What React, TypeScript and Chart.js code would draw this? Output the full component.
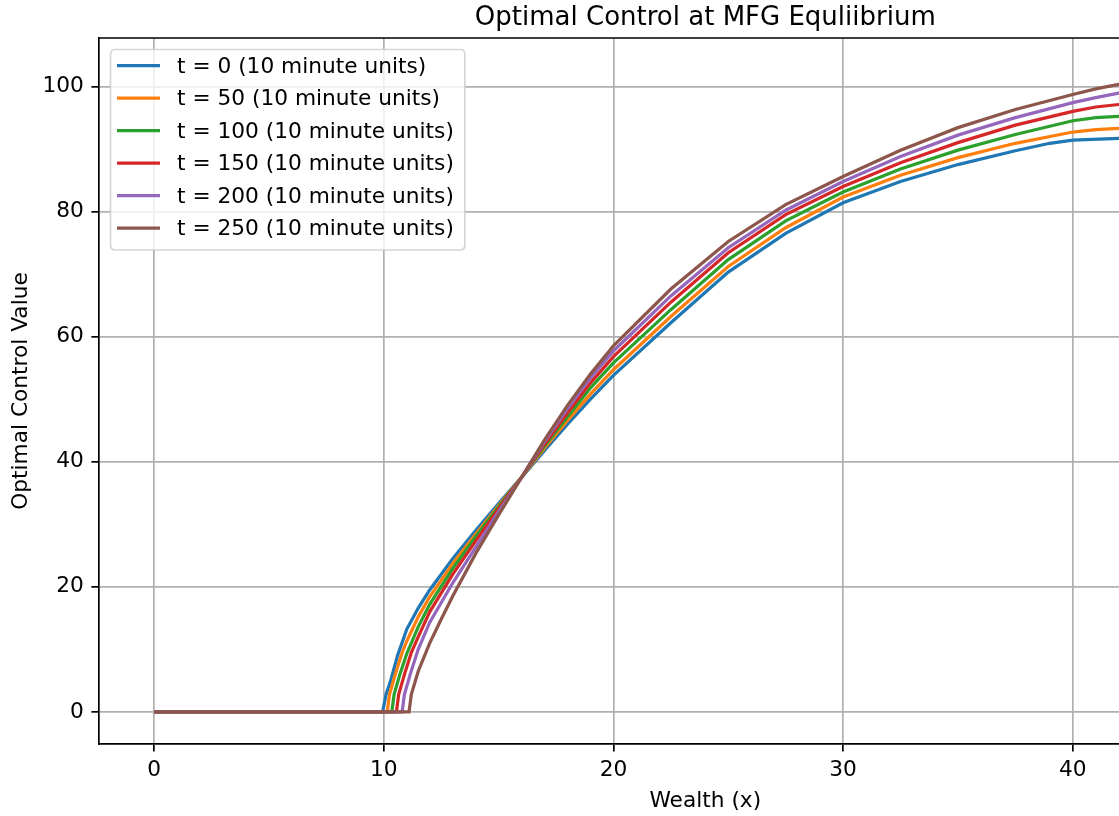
import { useEffect, useRef } from "react";
import { Chart, registerables } from "chart.js";

Chart.register(...registerables);

const FONT = "'DejaVu Sans', 'Liberation Sans', sans-serif";

const TITLE = "Optimal Control at MFG Equliibrium";
const X_LABEL = "Wealth (x)";
const Y_LABEL = "Optimal Control Value";

const LABELS = [
  "t = 0 (10 minute units)",
  "t = 50 (10 minute units)",
  "t = 100 (10 minute units)",
  "t = 150 (10 minute units)",
  "t = 200 (10 minute units)",
  "t = 250 (10 minute units)",
];
const COLORS = ["#1f77b4", "#ff7f0e", "#2ca02c", "#d62728", "#9467bd", "#8c564b"];

const wealthT0 = [0, 9.95, 10.1, 10.3, 10.6, 11, 11.5, 12, 13, 14, 15, 16, 17, 18, 19, 20, 22.5, 25, 27.5, 30, 32.5, 35, 37.5, 39, 40, 42, 45, 48];
const controlT0 = [0, 0, 2.8, 5, 9, 13.2, 16.6, 19.5, 24.5, 29, 33.3, 37.5, 41.8, 46, 50, 53.8, 62.2, 70.3, 76.5, 81.4, 84.8, 87.5, 89.7, 90.9, 91.4, 91.7, 91.8, 91.9];

const wealthT50 = [0, 10.15, 10.25, 10.5, 10.8, 11, 11.5, 12, 13, 14, 15, 16, 17, 18, 19, 20, 22.5, 25, 27.5, 30, 32.5, 35, 37.5, 40, 41, 42, 45, 48];
const controlT50 = [0, 0, 2.8, 6, 9.5, 11.3, 15.2, 18.4, 23.7, 28.4, 33, 37.5, 42.2, 46.6, 50.8, 54.7, 63.2, 71.2, 77.4, 82.3, 85.8, 88.6, 90.9, 92.7, 93.1, 93.3, 93.4, 93.5];

const wealthT100 = [0, 10.35, 10.45, 10.7, 11, 11.5, 12, 13, 14, 15, 16, 17, 18, 19, 20, 22.5, 25, 27.5, 30, 32.5, 35, 37.5, 40, 41, 42, 45, 48];
const controlT100 = [0, 0, 2.8, 6, 9.3, 13.6, 17.2, 22.9, 28, 32.8, 37.5, 42.5, 47.2, 51.8, 55.8, 64.3, 72.3, 78.5, 83.1, 86.8, 89.8, 92.3, 94.5, 95, 95.2, 95.4, 95.5];

const wealthT150 = [0, 10.55, 10.65, 10.9, 11.2, 11.5, 12, 13, 14, 15, 16, 17, 18, 19, 20, 22.5, 25, 27.5, 30, 32.5, 35, 37.5, 40, 41, 42, 45, 48];
const controlT150 = [0, 0, 2.8, 6, 9.5, 12, 16, 22, 27.3, 32.5, 37.5, 42.8, 47.8, 52.6, 56.8, 65.5, 73.4, 79.5, 84, 87.8, 91, 93.8, 96, 96.7, 97.1, 97.6, 98];

const wealthT200 = [0, 10.8, 10.9, 11.15, 11.5, 12, 13, 14, 15, 16, 17, 18, 19, 20, 22.5, 25, 27.5, 30, 32.5, 35, 37.5, 40, 41, 42, 45, 48];
const controlT200 = [0, 0, 2.8, 6, 10, 14.3, 20.6, 26.3, 32, 37.5, 43.2, 48.5, 53.4, 57.7, 66.5, 74.2, 80.2, 84.8, 88.8, 92.2, 95, 97.4, 98.2, 98.9, 99.8, 100.5];

const wealthT250 = [0, 11.1, 11.2, 11.5, 12, 12.5, 13, 14, 15, 16, 17, 18, 19, 20, 22.5, 25, 27.5, 30, 32.5, 35, 37.5, 40, 41, 42, 45, 48];
const controlT250 = [0, 0, 2.8, 6.5, 11, 14.8, 18.5, 25.3, 31.5, 37.5, 43.5, 49, 54, 58.5, 67.6, 75.2, 81.1, 85.6, 89.8, 93.4, 96.3, 98.7, 99.6, 100.3, 101.6, 102.6];

const WEALTH = [wealthT0, wealthT50, wealthT100, wealthT150, wealthT200, wealthT250];
const CONTROL = [controlT0, controlT50, controlT100, controlT150, controlT200, controlT250];

const X_MIN = -2.4;
const X_MAX = 50.4;
const Y_MIN = -5.13;
const Y_MAX = 107.73;
const X_STEP = 10;
const Y_STEP = 20;

const SMALL = 21.7;
const BIG = 26;

const decor = {
  id: "decor",
  afterDraw(chart: any) {
    const { ctx, chartArea } = chart;
    ctx.save();
    ctx.strokeStyle = "#000";
    ctx.lineWidth = 1.7;
    ctx.beginPath();
    ctx.moveTo(chartArea.left, chartArea.top);
    ctx.lineTo(chartArea.right, chartArea.top);
    ctx.lineTo(chartArea.right, chartArea.bottom);
    ctx.stroke();

    ctx.fillStyle = "#000";
    ctx.font = `${BIG}px ${FONT}`;
    ctx.textAlign = "center";
    ctx.textBaseline = "alphabetic";
    ctx.fillText(TITLE, (chartArea.left + chartArea.right) / 2, 25);

    ctx.font = `${SMALL}px ${FONT}`;
    const maxW = Math.max(...LABELS.map((l) => ctx.measureText(l).width));
    const bx = 110.5;
    const by = 49.5;
    const textX = 177;
    const bw = textX + maxW + 11 - bx;
    const bh = 200.5;
    ctx.beginPath();
    const r = 5;
    ctx.moveTo(bx + r, by);
    ctx.lineTo(bx + bw - r, by);
    ctx.quadraticCurveTo(bx + bw, by, bx + bw, by + r);
    ctx.lineTo(bx + bw, by + bh - r);
    ctx.quadraticCurveTo(bx + bw, by + bh, bx + bw - r, by + bh);
    ctx.lineTo(bx + r, by + bh);
    ctx.quadraticCurveTo(bx, by + bh, bx, by + bh - r);
    ctx.lineTo(bx, by + r);
    ctx.quadraticCurveTo(bx, by, bx + r, by);
    ctx.closePath();
    ctx.fillStyle = "rgba(255,255,255,0.8)";
    ctx.fill();
    ctx.strokeStyle = "rgba(204,204,204,0.8)";
    ctx.lineWidth = 1.7;
    ctx.stroke();

    ctx.textAlign = "left";
    ctx.textBaseline = "middle";
    LABELS.forEach((label, i) => {
      const y = 65.7 + 32.5 * i;
      ctx.strokeStyle = COLORS[i];
      ctx.lineWidth = 3.25;
      ctx.beginPath();
      ctx.moveTo(117, y);
      ctx.lineTo(160, y);
      ctx.stroke();
      ctx.fillStyle = "#000";
      ctx.fillText(label, textX, y + 1.5);
    });
    ctx.restore();
  },
};

export default function App() {
  const ref = useRef<HTMLCanvasElement>(null);

  useEffect(() => {
    const datasets = LABELS.map((label, i) => ({
      label,
      data: WEALTH[i].map((x, j) => ({ x, y: CONTROL[i][j] })),
      borderColor: COLORS[i],
      backgroundColor: COLORS[i],
      borderWidth: 3.25,
      pointRadius: 0,
      showLine: true,
      fill: false,
      tension: 0,
      order: LABELS.length - 1 - i,
    }));

    const chart = new Chart(ref.current!, {
      type: "scatter",
      data: { datasets },
      plugins: [decor],
      options: {
        animation: false,
        responsive: false,
        layout: { padding: { top: 38, right: 28.4, bottom: 0, left: 0 } },
        plugins: {
          legend: { display: false },
          title: { display: false },
          tooltip: { enabled: false },
        },
        scales: {
          x: {
            type: "linear",
            min: X_MIN,
            max: X_MAX,
            afterFit: (scale: any) => {
              scale.height = 72;
            },
            ticks: {
              stepSize: X_STEP,
              includeBounds: false,
              padding: 6,
              color: "#000",
              font: { family: FONT, size: SMALL },
              maxRotation: 0,
            },
            grid: {
              color: "#b0b0b0",
              lineWidth: 1.7,
              tickColor: "#000",
              tickLength: 7.6,
              tickWidth: 1.7,
            },
            border: { color: "#000", width: 1.7 },
            title: {
              display: true,
              text: X_LABEL,
              color: "#000",
              font: { family: FONT, size: SMALL },
              padding: { top: 0, bottom: 2 },
            },
          },
          y: {
            type: "linear",
            min: Y_MIN,
            max: Y_MAX,
            afterFit: (scale: any) => {
              scale.width = 99;
            },
            ticks: {
              stepSize: Y_STEP,
              includeBounds: false,
              padding: 7.6,
              color: "#000",
              font: { family: FONT, size: SMALL },
            },
            grid: {
              color: "#b0b0b0",
              lineWidth: 1.7,
              tickColor: "#000",
              tickLength: 7.6,
              tickWidth: 1.7,
            },
            border: { color: "#000", width: 1.7 },
            title: {
              display: true,
              text: Y_LABEL,
              color: "#000",
              font: { family: FONT, size: SMALL },
              padding: { top: 8, bottom: 0 },
            },
          },
        },
      },
    });
    return () => chart.destroy();
  }, []);

  return (
    <div
      style={{
        position: "fixed",
        left: 0,
        top: 0,
        width: 1119,
        height: 816,
        overflow: "hidden",
        background: "#fff",
      }}
    >
      <canvas ref={ref} width={1340} height={816} style={{ display: "block", width: 1340, height: 816 }} />
    </div>
  );
}
